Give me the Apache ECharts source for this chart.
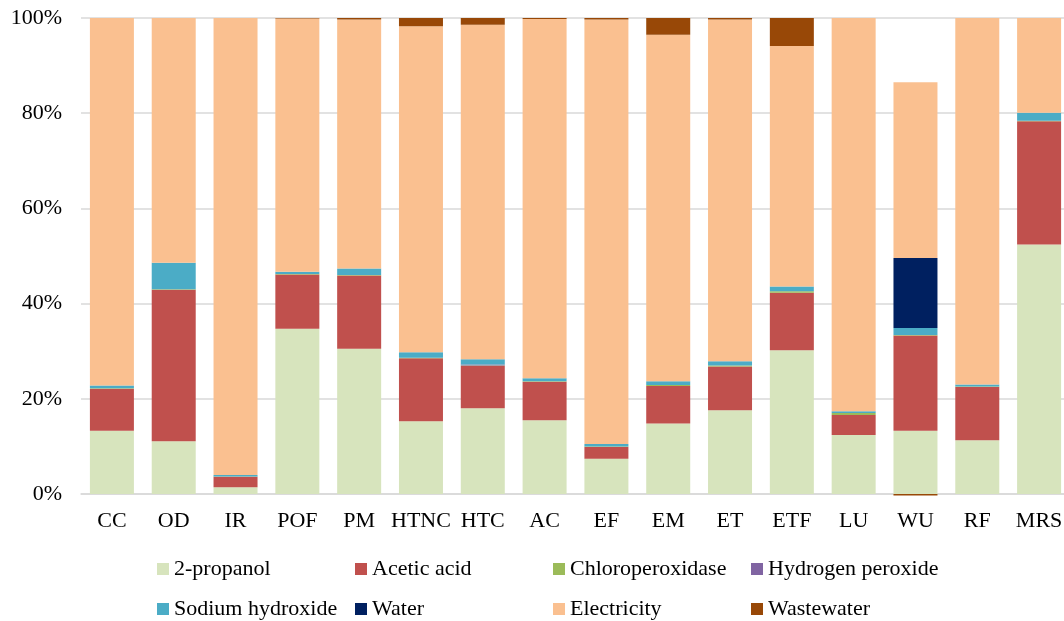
<!DOCTYPE html>
<html>
<head>
<meta charset="utf-8">
<script src="https://cdn.jsdelivr.net/npm/echarts@6/dist/echarts.min.js"></script>
<style>
html,body{margin:0;padding:0;background:#fff;}
#chart{width:1064px;height:621px;}
</style>
</head>
<body>
<div id="chart"></div>
<script>
const categories = ['CC','OD','IR','POF','PM','HTNC','HTC','AC','EF','EM','ET','ETF','LU','WU','RF','MRS'];
const yTicks = [0, 20, 40, 60, 80, 100];
const propanol =        [13.3, 11.1, 1.4, 34.7, 30.5, 15.3, 18.0, 15.5, 7.4, 14.8, 17.6, 30.2, 12.4, 13.3, 11.3, 52.4];
const aceticAcid =      [8.8, 31.8, 2.2, 11.4, 15.4, 13.2, 8.9, 8.1, 2.5, 7.9, 9.2, 12.1, 4.2, 20.0, 11.2, 25.9];
const chloroperox =     [0.1, 0.1, 0.1, 0.1, 0.1, 0.1, 0.1, 0.1, 0.1, 0.2, 0.2, 0.3, 0.4, 0.1, 0.1, 0.1];
const hydrogenPerox =   [0, 0, 0, 0, 0, 0, 0.2, 0, 0, 0, 0, 0, 0, 0, 0, 0];
const sodiumHydroxide = [0.6, 5.6, 0.3, 0.5, 1.4, 1.2, 1.1, 0.6, 0.5, 0.8, 0.9, 1.0, 0.4, 1.5, 0.4, 1.7];
const water =           [0, 0, 0, 0, 0, 0, 0, 0, 0, 0, 0, 0, 0, 14.7, 0, 0];
const electricity =     [77.2, 51.4, 96.0, 53.2, 52.3, 68.45, 70.3, 75.5, 89.2, 72.8, 71.8, 50.5, 82.6, 36.9, 77.0, 19.9];
const wastewater =      [0, 0, 0, 0.1, 0.3, 1.75, 1.4, 0.2, 0.3, 3.5, 0.3, 5.9, 0, -0.3, 0, 0];

const seriesDefs = [
  ['2-propanol', propanol, '#D7E4BD'],
  ['Acetic acid', aceticAcid, '#C0504D'],
  ['Chloroperoxidase', chloroperox, '#9BBB59'],
  ['Hydrogen peroxide', hydrogenPerox, '#8064A2'],
  ['Sodium hydroxide', sodiumHydroxide, '#4BACC6'],
  ['Water', water, '#002060'],
  ['Electricity', electricity, '#FAC090'],
  ['Wastewater', wastewater, '#984807']
];

const font = 'Liberation Serif, Times New Roman, serif';
const legendCols = [157, 355, 553, 751];
const legendRows = [558, 598];
const legends = seriesDefs.map((d, i) => ({
  data: [d[0]],
  left: legendCols[i % 4],
  top: legendRows[Math.floor(i / 4)],
  padding: 0,
  itemWidth: 12, itemHeight: 12, icon: 'rect',
  textStyle: {fontFamily: font, fontSize: 22, color: '#000'},
  selectedMode: false
}));

const chart = echarts.init(document.getElementById('chart'));
chart.setOption({
  animation: false,
  grid: {left: 81, right: -6, top: 18, bottom: 127, containLabel: false, outerBoundsMode: 'none'},
  legend: legends,
  xAxis: {
    type: 'category',
    data: categories,
    axisLine: {lineStyle: {color: '#D9D9D9', width: 1.5}},
    axisTick: {show: false},
    axisLabel: {fontFamily: font, fontSize: 22, color: '#000', margin: 16, interval: 0}
  },
  yAxis: {
    type: 'value',
    min: 0, max: 100, interval: 20,
    axisLine: {show: false},
    axisTick: {show: false},
    splitLine: {lineStyle: {color: '#D9D9D9', width: 1.5}},
    axisLabel: {fontFamily: font, fontSize: 22, color: '#000', margin: 19, formatter: v => yTicks.includes(v) ? v + '%' : ''}
  },
  series: seriesDefs.map(d => ({
    name: d[0],
    type: 'bar',
    stack: 'total',
    data: d[1],
    barWidth: 44,
    clip: false,
    itemStyle: {color: d[2]}
  }))
});
</script>
</body>
</html>
